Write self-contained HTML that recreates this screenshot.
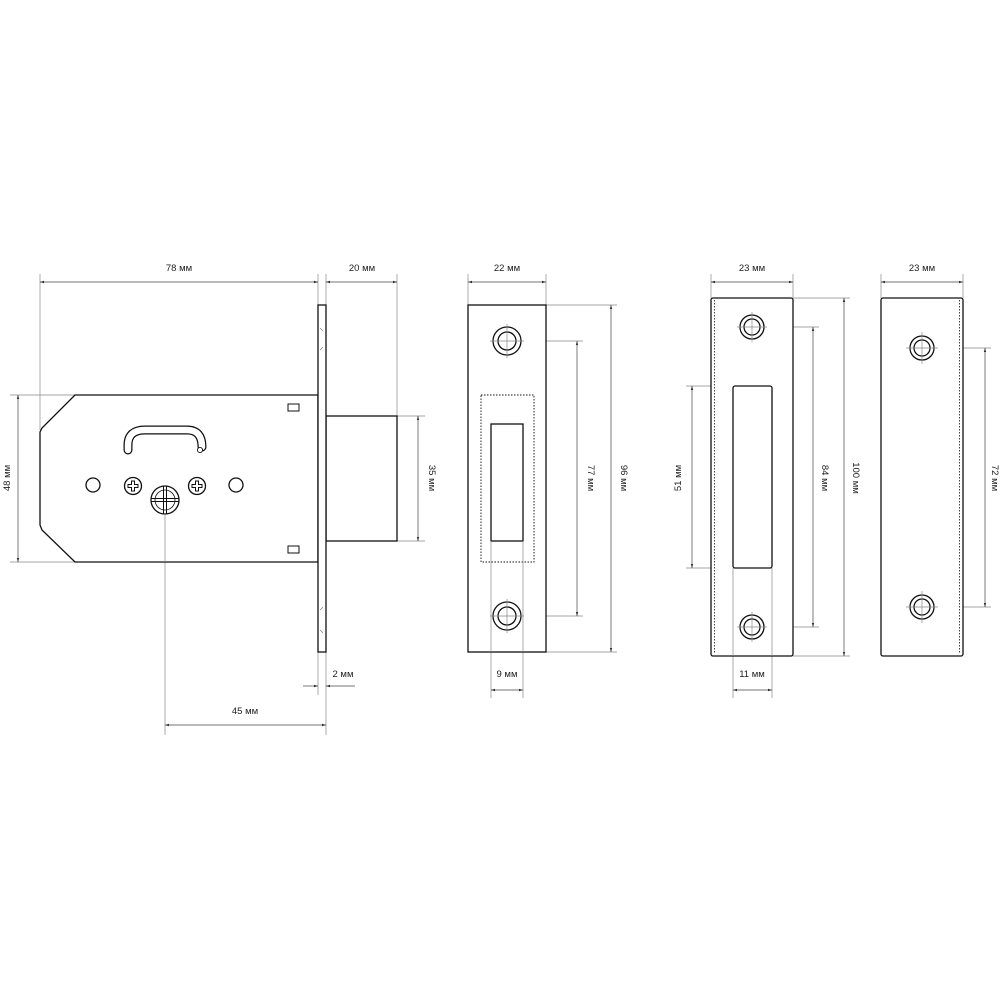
<!DOCTYPE html>
<html><head><meta charset="utf-8"><style>
html,body{margin:0;padding:0;background:#fff}
svg{display:block}
text{font-family:"Liberation Sans",sans-serif;font-size:9.5px;fill:#222}
</style></head><body>
<svg width="1000" height="1000" viewBox="0 0 1000 1000" xmlns="http://www.w3.org/2000/svg">
<defs>
<marker id="a" viewBox="0 0 10 10" refX="10" refY="5" markerWidth="6" markerHeight="6" orient="auto-start-reverse"><path d="M0,2 L10,5 L0,8 z" fill="#333"/></marker>
</defs>
<g fill="none" stroke="#888" stroke-width="0.7">
<line x1="40" y1="274" x2="40" y2="430"/>
<line x1="318" y1="274" x2="318" y2="305"/>
<line x1="326" y1="274" x2="326" y2="305"/>
<line x1="397" y1="274" x2="397" y2="416"/>
<line x1="10" y1="395" x2="75" y2="395"/>
<line x1="10" y1="562" x2="75" y2="562"/>
<line x1="397" y1="416" x2="425" y2="416"/>
<line x1="397" y1="541" x2="425" y2="541"/>
<line x1="318" y1="652" x2="318" y2="695"/>
<line x1="326" y1="652" x2="326" y2="735"/>
<line x1="165" y1="500" x2="165" y2="735"/>
<line x1="468" y1="274" x2="468" y2="305"/>
<line x1="546" y1="274" x2="546" y2="305"/>
<line x1="546" y1="305" x2="617" y2="305"/>
<line x1="546" y1="652" x2="617" y2="652"/>
<line x1="490" y1="341" x2="583" y2="341"/>
<line x1="490" y1="616" x2="583" y2="616"/>
<line x1="491" y1="541" x2="491" y2="698"/>
<line x1="523" y1="541" x2="523" y2="698"/>
<line x1="711" y1="274" x2="711" y2="298"/>
<line x1="793" y1="274" x2="793" y2="298"/>
<line x1="793" y1="298" x2="850" y2="298"/>
<line x1="793" y1="656" x2="850" y2="656"/>
<line x1="752" y1="327" x2="819" y2="327"/>
<line x1="752" y1="627" x2="819" y2="627"/>
<line x1="686" y1="386" x2="733" y2="386"/>
<line x1="686" y1="568" x2="733" y2="568"/>
<line x1="733" y1="568" x2="733" y2="698"/>
<line x1="772" y1="568" x2="772" y2="698"/>
<line x1="881" y1="274" x2="881" y2="298"/>
<line x1="963" y1="274" x2="963" y2="298"/>
<line x1="906" y1="348" x2="991" y2="348"/>
<line x1="906" y1="607" x2="991" y2="607"/>
</g>
<g fill="none" stroke="#444" stroke-width="0.7">
<line x1="40" y1="282" x2="318" y2="282" marker-start="url(#a)" marker-end="url(#a)"/>
<line x1="326" y1="282" x2="397" y2="282" marker-start="url(#a)" marker-end="url(#a)"/>
<line x1="18" y1="395" x2="18" y2="562" marker-start="url(#a)" marker-end="url(#a)"/>
<line x1="418" y1="416" x2="418" y2="541" marker-start="url(#a)" marker-end="url(#a)"/>
<line x1="303" y1="686" x2="318" y2="686" marker-end="url(#a)"/>
<line x1="355" y1="686" x2="326" y2="686" marker-end="url(#a)"/>
<line x1="165" y1="725" x2="326" y2="725" marker-start="url(#a)" marker-end="url(#a)"/>
<line x1="468" y1="282" x2="546" y2="282" marker-start="url(#a)" marker-end="url(#a)"/>
<line x1="611" y1="305" x2="611" y2="652" marker-start="url(#a)" marker-end="url(#a)"/>
<line x1="577" y1="341" x2="577" y2="616" marker-start="url(#a)" marker-end="url(#a)"/>
<line x1="491" y1="690" x2="523" y2="690" marker-start="url(#a)" marker-end="url(#a)"/>
<line x1="711" y1="282" x2="793" y2="282" marker-start="url(#a)" marker-end="url(#a)"/>
<line x1="844" y1="298" x2="844" y2="656" marker-start="url(#a)" marker-end="url(#a)"/>
<line x1="813" y1="327" x2="813" y2="627" marker-start="url(#a)" marker-end="url(#a)"/>
<line x1="692" y1="386" x2="692" y2="568" marker-start="url(#a)" marker-end="url(#a)"/>
<line x1="733" y1="690" x2="772" y2="690" marker-start="url(#a)" marker-end="url(#a)"/>
<line x1="881" y1="282" x2="963" y2="282" marker-start="url(#a)" marker-end="url(#a)"/>
<line x1="985" y1="348" x2="985" y2="607" marker-start="url(#a)" marker-end="url(#a)"/>
</g>
<g fill="#fff" stroke="#111" stroke-width="1.3">
<path d="M75,395 L318,395 L318,562 L75,562 L42,530 L40,525 L40,432 L42,428 Z"/>
<rect x="326" y="416" width="71" height="125"/>
<rect x="318" y="305" width="8" height="347"/>
<rect x="288" y="404" width="11" height="7" stroke-width="1"/>
<rect x="288" y="546" width="11" height="7" stroke-width="1"/>
<circle cx="93" cy="485" r="7"/>
<circle cx="236" cy="485" r="7"/>
<circle cx="133" cy="486" r="8.5"/>
<circle cx="197" cy="486" r="8.5"/>
<circle cx="165" cy="500" r="14"/>
<circle cx="165" cy="500" r="10" stroke-width="0.8"/>
</g>
<g stroke="#111" stroke-width="1" fill="none">
<path d="M131.5,481 h3 v3.5 h3.5 v3 h-3.5 v3.5 h-3 v-3.5 h-3.5 v-3 h3.5 z"/>
<path d="M195.5,481 h3 v3.5 h3.5 v3 h-3.5 v3.5 h-3 v-3.5 h-3.5 v-3 h3.5 z"/>
<path d="M151,498.5 h28 M151,501.5 h28 M163.5,486 v28 M166.5,486 v28"/>
<path d="M128,450 L128,445 Q128,430 145,430 L187,430 Q202,430 202,447" stroke-width="9" stroke-linecap="round"/>
<path d="M128,450 L128,445 Q128,430 145,430 L187,430 Q202,430 202,447" stroke="#fff" stroke-width="6.5" stroke-linecap="round"/>
<circle cx="200" cy="450" r="2.6" fill="#fff" stroke-width="0.9"/>
<path d="M320,350 l3,-3 M320,328 l3,3 M320,610 l3,-3 M320,630 l3,3" stroke="#777" stroke-width="0.6"/>
</g>
<g fill="#fff" stroke="#111" stroke-width="1.3">
<rect x="468" y="305" width="78" height="347"/>
<rect x="481" y="395" width="53" height="167" stroke-dasharray="1.5,1.5" stroke-width="0.9"/>
<rect x="491" y="424" width="32" height="117"/>
<circle cx="507" cy="341" r="14"/><circle cx="507" cy="341" r="9"/>
<circle cx="507" cy="616" r="14"/><circle cx="507" cy="616" r="9"/>
</g>
<g fill="#fff" stroke="#111" stroke-width="1.3">
<rect x="711" y="298" width="82" height="358" rx="2"/>
<line x1="714.5" y1="300" x2="714.5" y2="654" stroke-dasharray="1.5,1.5" stroke-width="0.8"/>
<rect x="733" y="386" width="39" height="182" rx="2"/>
<circle cx="752" cy="327" r="12"/><circle cx="752" cy="327" r="8"/>
<circle cx="752" cy="627" r="12"/><circle cx="752" cy="627" r="8"/>
</g>
<g fill="#fff" stroke="#111" stroke-width="1.3">
<rect x="881" y="298" width="82" height="358" rx="2"/>
<line x1="959.5" y1="300" x2="959.5" y2="654" stroke-dasharray="1.5,1.5" stroke-width="0.8"/>
<circle cx="922" cy="348" r="12"/><circle cx="922" cy="348" r="8"/>
<circle cx="922" cy="607" r="12"/><circle cx="922" cy="607" r="8"/>
</g>
<g fill="none" stroke="#888" stroke-width="0.7">
<line x1="490" y1="341" x2="524" y2="341"/><line x1="507" y1="324" x2="507" y2="358"/>
<line x1="490" y1="616" x2="524" y2="616"/><line x1="507" y1="599" x2="507" y2="633"/>
<line x1="737" y1="327" x2="767" y2="327"/><line x1="752" y1="312" x2="752" y2="342"/>
<line x1="737" y1="627" x2="767" y2="627"/><line x1="752" y1="612" x2="752" y2="642"/>
<line x1="906" y1="348" x2="938" y2="348"/><line x1="922" y1="332" x2="922" y2="364"/>
<line x1="906" y1="607" x2="938" y2="607"/><line x1="922" y1="591" x2="922" y2="623"/>
<line x1="491" y1="541" x2="491" y2="652"/><line x1="523" y1="541" x2="523" y2="652"/>
<line x1="733" y1="568" x2="733" y2="656"/><line x1="772" y1="568" x2="772" y2="656"/>
<line x1="165" y1="514" x2="165" y2="562"/>
</g>
<g text-anchor="middle">
<text x="179" y="271">78 мм</text>
<text x="362" y="271">20 мм</text>
<text x="343" y="677">2 мм</text>
<text x="245" y="714">45 мм</text>
<text x="507" y="271">22 мм</text>
<text x="507" y="677">9 мм</text>
<text x="752" y="271">23 мм</text>
<text x="752" y="677">11 мм</text>
<text x="922" y="271">23 мм</text>
<text transform="translate(10,478) rotate(-90)">48 мм</text>
<text transform="translate(429,478) rotate(90)">35 мм</text>
<text transform="translate(588,478) rotate(90)">77 мм</text>
<text transform="translate(621,478) rotate(90)">96 мм</text>
<text transform="translate(681,478) rotate(-90)">51 мм</text>
<text transform="translate(822,478) rotate(90)">84 мм</text>
<text transform="translate(853,478) rotate(90)">100 мм</text>
<text transform="translate(992,478) rotate(90)">72 мм</text>
</g>
</svg>
</body></html>
